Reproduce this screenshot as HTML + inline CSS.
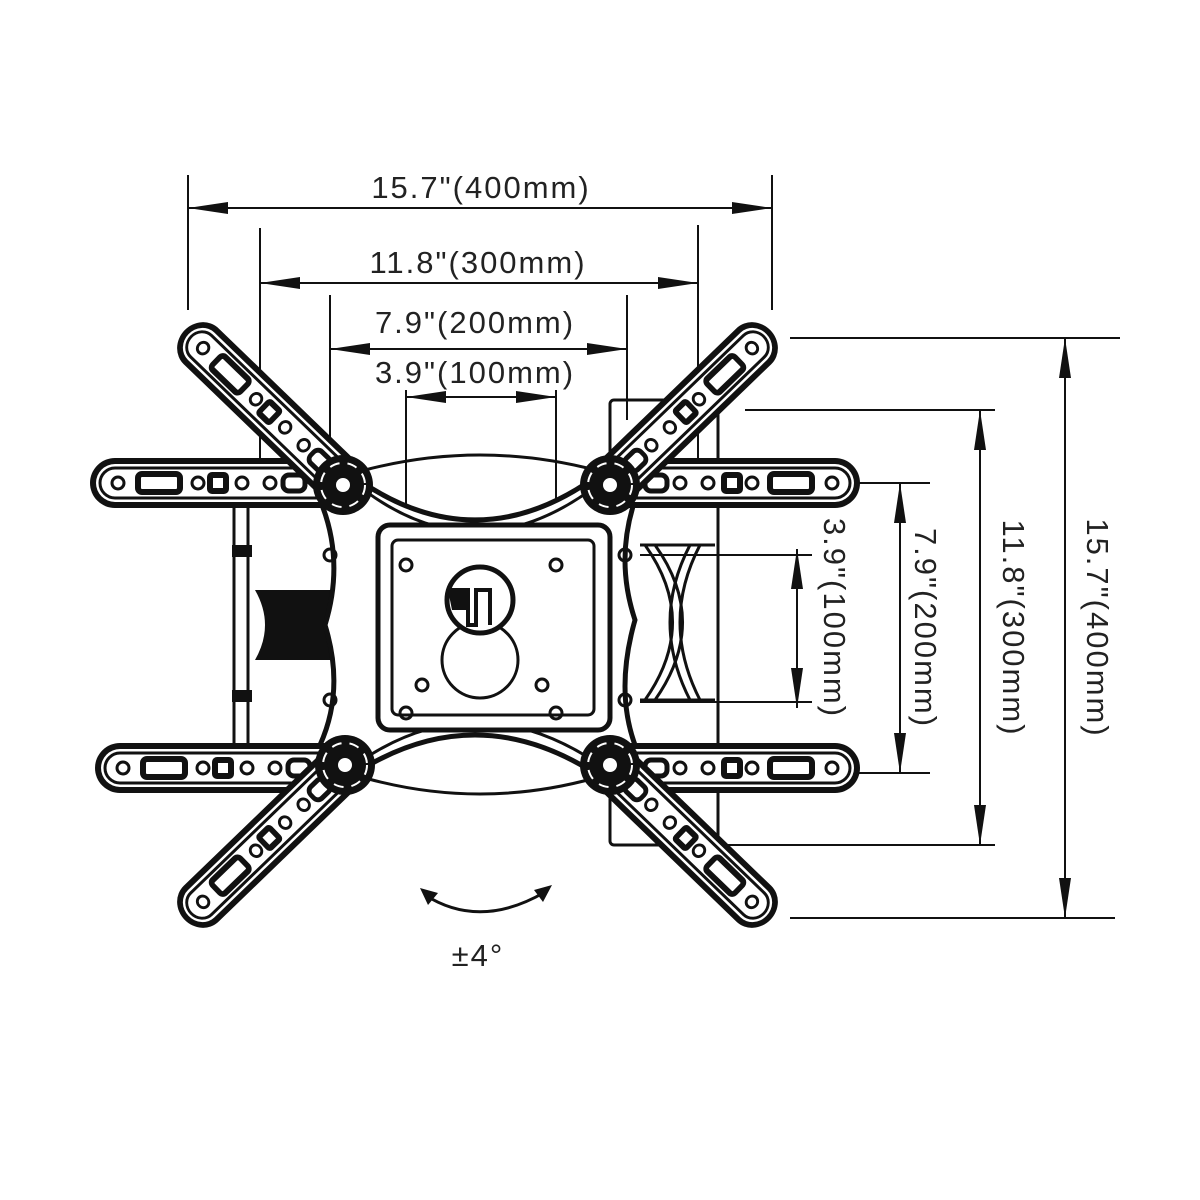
<!DOCTYPE html>
<html><head><style>
html,body{margin:0;padding:0;background:#fff;}
svg{display:block}
text{font-family:"Liberation Sans",sans-serif;font-size:31px;fill:#222;letter-spacing:2px}
</style></head><body>
<svg width="1200" height="1200" viewBox="0 0 1200 1200" xmlns="http://www.w3.org/2000/svg">
<defs>
<marker id="ah" viewBox="0 0 40 12" refX="40" refY="6" markerWidth="40" markerHeight="12" orient="auto-start-reverse" markerUnits="userSpaceOnUse">
<path d="M0,0 L40,6 L0,12 z" fill="#111"/></marker>
<g id="arm">
<rect x="-20" y="-25" width="270" height="50" rx="25" fill="#111"/>
<rect x="-14" y="-19" width="258" height="38" rx="19" fill="#fff"/>
<rect x="-10" y="-15" width="250" height="30" rx="15" fill="none" stroke="#111" stroke-width="3"/>
<circle cx="222" cy="0" r="6" fill="none" stroke="#111" stroke-width="3"/>
<rect x="160" y="-9" width="42" height="18" rx="4" fill="none" stroke="#111" stroke-width="6"/>
<circle cx="142" cy="0" r="6" fill="none" stroke="#111" stroke-width="3"/>
<rect x="114" y="-8" width="16" height="16" rx="2" fill="none" stroke="#111" stroke-width="6"/>
<circle cx="98" cy="0" r="6" fill="none" stroke="#111" stroke-width="3"/>
<circle cx="70" cy="0" r="6" fill="none" stroke="#111" stroke-width="3"/>
<rect x="35" y="-8" width="22" height="16" rx="6" fill="none" stroke="#111" stroke-width="5"/>
</g>
<g id="hub">
<circle r="30" fill="#111"/>
<circle r="22" fill="none" stroke="#fff" stroke-width="2" stroke-dasharray="10 8"/>
<circle r="8" fill="#fff" stroke="#111" stroke-width="2"/>
</g>
</defs>

<g stroke="#111" stroke-width="2" fill="none">
<line x1="188" y1="175" x2="188" y2="310"/><line x1="772" y1="175" x2="772" y2="310"/>
<line x1="188" y1="208" x2="772" y2="208" marker-start="url(#ah)" marker-end="url(#ah)"/>
<line x1="260" y1="228" x2="260" y2="500"/><line x1="698" y1="225" x2="698" y2="480"/>
<line x1="260" y1="283" x2="698" y2="283" marker-start="url(#ah)" marker-end="url(#ah)"/>
<line x1="330" y1="295" x2="330" y2="480"/><line x1="627" y1="295" x2="627" y2="420"/>
<line x1="330" y1="349" x2="627" y2="349" marker-start="url(#ah)" marker-end="url(#ah)"/>
<line x1="406" y1="390" x2="406" y2="565"/><line x1="556" y1="390" x2="556" y2="565"/>
<line x1="406" y1="397" x2="556" y2="397" marker-start="url(#ah)" marker-end="url(#ah)"/>
<line x1="790" y1="338" x2="1120" y2="338"/><line x1="790" y1="918" x2="1115" y2="918"/>
<line x1="1065" y1="338" x2="1065" y2="918" marker-start="url(#ah)" marker-end="url(#ah)"/>
<line x1="745" y1="410" x2="995" y2="410"/><line x1="690" y1="845" x2="995" y2="845"/>
<line x1="980" y1="410" x2="980" y2="845" marker-start="url(#ah)" marker-end="url(#ah)"/>
<line x1="650" y1="483" x2="930" y2="483"/><line x1="650" y1="773" x2="930" y2="773"/>
<line x1="900" y1="483" x2="900" y2="773" marker-start="url(#ah)" marker-end="url(#ah)"/>
<line x1="640" y1="555" x2="812" y2="555"/><line x1="640" y1="702" x2="812" y2="702"/>
<line x1="797" y1="549" x2="797" y2="708" marker-start="url(#ah)" marker-end="url(#ah)"/>
</g>
<text x="481" y="198" text-anchor="middle">15.7"(400mm)</text>
<text x="478" y="273" text-anchor="middle">11.8"(300mm)</text>
<text x="475" y="333" text-anchor="middle">7.9"(200mm)</text>
<text x="475" y="383" text-anchor="middle">3.9"(100mm)</text>
<text transform="translate(1087,628) rotate(90)" text-anchor="middle">15.7"(400mm)</text>
<text transform="translate(1003,628) rotate(90)" text-anchor="middle">11.8"(300mm)</text>
<text transform="translate(915,628) rotate(90)" text-anchor="middle">7.9"(200mm)</text>
<text transform="translate(824,618) rotate(90)" text-anchor="middle">3.9"(100mm)</text>

<g stroke="#111" stroke-width="3" fill="none">
<rect x="234" y="475" width="14" height="290"/>
<rect x="610" y="400" width="108" height="445" rx="4"/>
<line x1="640" y1="545" x2="715" y2="545"/><line x1="640" y1="700" x2="715" y2="700"/>
<path d="M645,545 Q700,622 645,700 M690,545 Q650,622 690,700"/>
<path d="M655,545 Q710,622 655,700 M700,545 Q660,622 700,700"/>
</g>
<path d="M255,590 L340,590 L345,625 L340,660 L255,660 Q275,625 255,590z" fill="#111"/>
<rect x="232" y="545" width="20" height="12" fill="#111"/><rect x="232" y="690" width="20" height="12" fill="#111"/>

<path d="M345,470 Q475,570 605,470 L635,500 Q615,560 635,620 Q615,690 635,745 L605,780 Q475,690 345,780 L320,745 Q345,690 325,625 Q345,560 320,500 Z" fill="#fff" stroke="#111" stroke-width="5"/>
<path d="M355,483 Q475,580 600,483" fill="none" stroke="#111" stroke-width="3"/>
<path d="M355,765 Q475,680 600,765" fill="none" stroke="#111" stroke-width="3"/>
<path d="M365,470 Q480,440 595,470" fill="none" stroke="#111" stroke-width="3"/>
<path d="M365,778 Q480,810 595,778" fill="none" stroke="#111" stroke-width="3"/>
<rect x="378" y="525" width="232" height="205" rx="12" fill="#fff" stroke="#111" stroke-width="5"/>
<rect x="392" y="540" width="202" height="175" rx="6" fill="none" stroke="#111" stroke-width="3"/>
<circle cx="406" cy="565" r="6" fill="none" stroke="#111" stroke-width="3"/>
<circle cx="556" cy="565" r="6" fill="none" stroke="#111" stroke-width="3"/>
<circle cx="406" cy="713" r="6" fill="none" stroke="#111" stroke-width="3"/>
<circle cx="556" cy="713" r="6" fill="none" stroke="#111" stroke-width="3"/>
<circle cx="422" cy="685" r="6" fill="none" stroke="#111" stroke-width="3"/>
<circle cx="542" cy="685" r="6" fill="none" stroke="#111" stroke-width="3"/>
<circle cx="480" cy="660" r="38" fill="none" stroke="#111" stroke-width="3"/>
<circle cx="480" cy="600" r="33" fill="#fff" stroke="#111" stroke-width="5"/>
<path d="M448,590 L468,590 L468,625 L476,625 L476,590 L490,590 L490,625" fill="none" stroke="#111" stroke-width="4"/>
<path d="M448,590 L468,590 L468,610 L452,610 Z" fill="#111"/>
<circle cx="330" cy="555" r="6" fill="none" stroke="#111" stroke-width="3"/>
<circle cx="330" cy="700" r="6" fill="none" stroke="#111" stroke-width="3"/>
<circle cx="625" cy="555" r="6" fill="none" stroke="#111" stroke-width="3"/>
<circle cx="625" cy="700" r="6" fill="none" stroke="#111" stroke-width="3"/>

<use href="#arm" transform="translate(340,483) rotate(180)" />
<use href="#arm" transform="translate(610,483)" />
<use href="#arm" transform="translate(345,768) rotate(180)" />
<use href="#arm" transform="translate(610,768)" />
<use href="#arm" transform="translate(350,490) rotate(-136) scale(0.92,1)" />
<use href="#arm" transform="translate(605,490) rotate(-44) scale(0.92,1)" />
<use href="#arm" transform="translate(350,760) rotate(136) scale(0.92,1)" />
<use href="#arm" transform="translate(605,760) rotate(44) scale(0.92,1)" />
<use href="#hub" transform="translate(343,485)"/>
<use href="#hub" transform="translate(610,485)"/>
<use href="#hub" transform="translate(345,765)"/>
<use href="#hub" transform="translate(610,765)"/>

<path d="M425,895 Q480,930 545,892" fill="none" stroke="#111" stroke-width="3"/>
<path d="M420,888 L438,893 L428,905Z M552,885 L534,890 L543,902Z" fill="#111"/>
<text x="478" y="966" text-anchor="middle">±4°</text>
</svg>
</body></html>
